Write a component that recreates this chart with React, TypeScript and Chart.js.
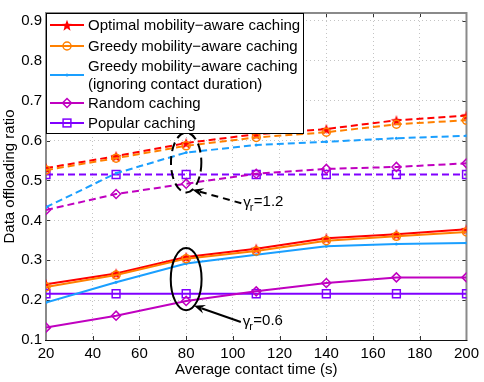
import React, { useEffect, useRef } from 'react';
import { Chart, registerables } from 'chart.js';

Chart.register(...registerables);

const FONT = '"Liberation Sans", Arial, Helvetica, sans-serif';
const FS = 15;

// ---- data ----
const contactTimes = [20, 50, 80, 110, 140, 170, 200];
const xTicks = [20, 40, 60, 80, 100, 120, 140, 160, 180, 200];
const yTicks = [0.1, 0.2, 0.3, 0.4, 0.5, 0.6, 0.7, 0.8, 0.9];

// gamma_r = 0.6 (solid)
const optimalLow = [0.24, 0.267, 0.308, 0.329, 0.355, 0.365, 0.378];
const greedyLow = [0.233, 0.263, 0.304, 0.323, 0.349, 0.36, 0.371];
const greedyNoDurLow = [0.194, 0.245, 0.292, 0.314, 0.335, 0.341, 0.343];
const randomLow = [0.131, 0.161, 0.198, 0.222, 0.243, 0.257, 0.257];
const popularLow = [0.216, 0.216, 0.216, 0.216, 0.216, 0.216, 0.216];

// gamma_r = 1.2 (dashed)
const optimalHigh = [0.531, 0.561, 0.594, 0.616, 0.629, 0.651, 0.663];
const greedyHigh = [0.526, 0.556, 0.587, 0.608, 0.621, 0.641, 0.651];
const greedyNoDurHigh = [0.433, 0.518, 0.57, 0.589, 0.597, 0.606, 0.612];
const randomHigh = [0.426, 0.466, 0.492, 0.517, 0.529, 0.534, 0.543];
const popularHigh = [0.515, 0.515, 0.515, 0.515, 0.515, 0.515, 0.515];

const seriesLabels = [
  ['Optimal mobility\u2212aware caching'],
  ['Greedy mobility\u2212aware caching'],
  ['Greedy mobility\u2212aware caching', '(ignoring contact duration)'],
  ['Random caching'],
  ['Popular caching'],
];
const seriesColors = ['#ff0000', '#ff8000', '#1a9fff', '#c000c0', '#8000ff'];
const seriesMarkers = ['star', 'circle', 'dot', 'diamond', 'square'];
const lowValues = [optimalLow, greedyLow, greedyNoDurLow, randomLow, popularLow];
const highValues = [optimalHigh, greedyHigh, greedyNoDurHigh, randomHigh, popularHigh];

// annotations (data coordinates)
const annHigh = { cx: 80, cy: 0.545, rx: 6.5, ry: 0.075, tipX: 82.7, tipY: 0.477, tailX: 103.6, tailY: 0.443, label: '=1.2' };
const annLow = { cx: 80, cy: 0.2525, rx: 6.6, ry: 0.078, tipX: 83.4, tipY: 0.186, tailX: 103.4, tailY: 0.145, label: '=0.6' };

function starPath(ctx: CanvasRenderingContext2D, cx: number, cy: number, R: number, r: number) {
  ctx.beginPath();
  for (let i = 0; i < 10; i++) {
    const ang = -Math.PI / 2 + (i * Math.PI) / 5;
    const rad = i % 2 === 0 ? R : r;
    const px = cx + rad * Math.cos(ang);
    const py = cy + rad * Math.sin(ang);
    if (i === 0) ctx.moveTo(px, py);
    else ctx.lineTo(px, py);
  }
  ctx.closePath();
}

function makeStar(color: string, R: number): HTMLCanvasElement {
  const size = Math.ceil(R * 2 + 2);
  const c = document.createElement('canvas');
  c.width = size;
  c.height = size;
  const ctx = c.getContext('2d')!;
  starPath(ctx, size / 2, size / 2 + 0.8, R, R * 0.42);
  ctx.fillStyle = color;
  ctx.fill();
  return c;
}

function drawMarker(ctx: CanvasRenderingContext2D, kind: string, color: string, x: number, y: number, star: HTMLCanvasElement) {
  ctx.save();
  ctx.setLineDash([]);
  ctx.strokeStyle = color;
  ctx.fillStyle = color;
  ctx.lineWidth = 1.5;
  if (kind === 'star') {
    ctx.drawImage(star, x - star.width / 2, y - star.height / 2);
  } else if (kind === 'circle') {
    ctx.beginPath();
    ctx.arc(x, y, 4, 0, Math.PI * 2);
    ctx.stroke();
  } else if (kind === 'dot') {
    ctx.beginPath();
    ctx.arc(x, y, 1.5, 0, Math.PI * 2);
    ctx.fill();
  } else if (kind === 'diamond') {
    ctx.beginPath();
    ctx.moveTo(x, y - 4.5);
    ctx.lineTo(x + 4.5, y);
    ctx.lineTo(x, y + 4.5);
    ctx.lineTo(x - 4.5, y);
    ctx.closePath();
    ctx.stroke();
  } else if (kind === 'square') {
    ctx.strokeRect(x - 3.9, y - 3.9, 7.8, 7.8);
  }
  ctx.restore();
}

function pointOpts(kind: string, color: string, star: HTMLCanvasElement) {
  switch (kind) {
    case 'star':
      return { pointStyle: star, pointRadius: 6, pointBorderWidth: 0, pointBackgroundColor: color, pointBorderColor: color };
    case 'circle':
      return { pointStyle: 'circle', pointRadius: 4, pointBorderWidth: 1.5, pointBackgroundColor: 'rgba(0,0,0,0)', pointBorderColor: color };
    case 'dot':
      return { pointStyle: 'circle', pointRadius: 1.5, pointBorderWidth: 0, pointBackgroundColor: color, pointBorderColor: color };
    case 'diamond':
      return { pointStyle: 'rectRot', pointRadius: 4.5, pointBorderWidth: 1.5, pointBackgroundColor: 'rgba(0,0,0,0)', pointBorderColor: color };
    default:
      return { pointStyle: 'rect', pointRadius: 5.5, pointBorderWidth: 1.5, pointBackgroundColor: 'rgba(0,0,0,0)', pointBorderColor: color };
  }
}

export default function App() {
  const ref = useRef<HTMLCanvasElement | null>(null);

  useEffect(() => {
    if (!ref.current) return;
    const star = makeStar('#ff0000', 6);

    // draw order: dataset 0 is on top
    const drawOrder = [1, 0, 2, 3, 4];
    const datasets: any[] = [];
    drawOrder.forEach((i) => {
      [lowValues[i], highValues[i]].forEach((vals, k) => {
        datasets.push({
          label: seriesLabels[i].join(' ') + (k === 0 ? ' (0.6)' : ' (1.2)'),
          data: contactTimes.map((t, j) => ({ x: t, y: vals[j] })),
          borderColor: seriesColors[i],
          backgroundColor: seriesColors[i],
          borderWidth: 2,
          borderDash: k === 1 ? [7, 4] : [],
          tension: 0,
          fill: false,
          ...pointOpts(seriesMarkers[i], seriesColors[i], star),
        });
      });
    });

    const framePlugin = {
      id: 'frame',
      beforeDatasetsDraw(chart: any) {
        const { ctx, chartArea: a, scales } = chart;
        ctx.save();
        ctx.setLineDash([]);
        ctx.strokeStyle = '#333';
        ctx.lineWidth = 1;
        const tl = 4;
        xTicks.forEach((t) => {
          const px = Math.round(scales.x.getPixelForValue(t)) + 0.5;
          ctx.beginPath();
          ctx.moveTo(px, a.bottom);
          ctx.lineTo(px, a.bottom - tl);
          ctx.moveTo(px, a.top);
          ctx.lineTo(px, a.top + tl);
          ctx.stroke();
        });
        yTicks.forEach((t) => {
          const py = Math.round(scales.y.getPixelForValue(t)) + 0.5;
          ctx.beginPath();
          ctx.moveTo(a.left, py);
          ctx.lineTo(a.left + tl, py);
          ctx.moveTo(a.right, py);
          ctx.lineTo(a.right - tl, py);
          ctx.stroke();
        });
        ctx.strokeStyle = '#8a8a8a';
        ctx.lineWidth = 2;
        ctx.beginPath();
        ctx.moveTo(a.left, a.bottom);
        ctx.lineTo(a.left, a.top);
        ctx.lineTo(a.right, a.top);
        ctx.lineTo(a.right, a.bottom);
        ctx.stroke();
        ctx.strokeStyle = '#111';
        ctx.lineWidth = 1.2;
        ctx.beginPath();
        ctx.moveTo(a.left - 1, a.bottom + 0.5);
        ctx.lineTo(a.right + 1, a.bottom + 0.5);
        ctx.stroke();
        ctx.restore();
      },
    };

    const arrow = (ctx: CanvasRenderingContext2D, x1: number, y1: number, x2: number, y2: number, dashed: boolean) => {
      const ang = Math.atan2(y2 - y1, x2 - x1);
      const hl = 11;
      const hw = 4.5;
      ctx.save();
      ctx.strokeStyle = '#000';
      ctx.fillStyle = '#000';
      ctx.lineWidth = 2;
      ctx.setLineDash(dashed ? [7, 5] : []);
      ctx.beginPath();
      ctx.moveTo(x1, y1);
      ctx.lineTo(x2 - Math.cos(ang) * hl * 0.7, y2 - Math.sin(ang) * hl * 0.7);
      ctx.stroke();
      ctx.setLineDash([]);
      ctx.beginPath();
      ctx.moveTo(x2, y2);
      ctx.lineTo(x2 - Math.cos(ang) * hl - Math.sin(ang) * hw, y2 - Math.sin(ang) * hl + Math.cos(ang) * hw);
      ctx.lineTo(x2 - Math.cos(ang) * hl * 0.65, y2 - Math.sin(ang) * hl * 0.65);
      ctx.lineTo(x2 - Math.cos(ang) * hl + Math.sin(ang) * hw, y2 - Math.sin(ang) * hl - Math.cos(ang) * hw);
      ctx.closePath();
      ctx.fill();
      ctx.restore();
    };

    const overlayPlugin = {
      id: 'overlay',
      afterDatasetsDraw(chart: any) {
        const { ctx, chartArea: a, scales } = chart;
        const xs = scales.x;
        const ys = scales.y;

        // annotations
        [annHigh, annLow].forEach((an, idx) => {
          const dashed = idx === 0;
          const cx = xs.getPixelForValue(an.cx);
          const cy = ys.getPixelForValue(an.cy);
          const rx = xs.getPixelForValue(an.cx + an.rx) - cx;
          const ry = cy - ys.getPixelForValue(an.cy + an.ry);
          ctx.save();
          ctx.strokeStyle = '#000';
          ctx.lineWidth = 2;
          ctx.setLineDash(dashed ? [9, 5] : []);
          ctx.beginPath();
          ctx.ellipse(cx, cy, rx, ry, 0, 0, Math.PI * 2);
          ctx.stroke();
          ctx.restore();
          const tx = xs.getPixelForValue(an.tailX);
          const ty = ys.getPixelForValue(an.tailY);
          arrow(ctx, tx, ty, xs.getPixelForValue(an.tipX), ys.getPixelForValue(an.tipY), dashed);
          ctx.save();
          ctx.fillStyle = '#000';
          ctx.textBaseline = 'middle';
          ctx.textAlign = 'left';
          ctx.font = `${FS}px ${FONT}`;
          const lx = tx + 2;
          ctx.fillText('\u03b3', lx, ty);
          const gw = ctx.measureText('\u03b3').width;
          ctx.font = `11px ${FONT}`;
          ctx.fillText('r', lx + gw - 1, ty + 5);
          ctx.font = `${FS}px ${FONT}`;
          ctx.fillText(an.label, lx + gw + 3, ty - 1);
          ctx.restore();
        });

        // legend
        const lx = a.left;
        const ly = a.top;
        const lw = 257;
        const lh = 120;
        ctx.save();
        ctx.setLineDash([]);
        ctx.fillStyle = '#fff';
        ctx.fillRect(lx, ly, lw, lh);
        ctx.strokeStyle = '#000';
        ctx.lineWidth = 1;
        ctx.strokeRect(lx + 0.5, ly + 0.5, lw, lh);
        const rowY = [12, 33, 62, 90, 110];
        ctx.font = `${FS}px ${FONT}`;
        ctx.textBaseline = 'middle';
        ctx.textAlign = 'left';
        seriesLabels.forEach((lines, i) => {
          const y = ly + rowY[i];
          ctx.strokeStyle = seriesColors[i];
          ctx.lineWidth = 2;
          ctx.beginPath();
          ctx.moveTo(lx + 4, y);
          ctx.lineTo(lx + 38, y);
          ctx.stroke();
          drawMarker(ctx, seriesMarkers[i], seriesColors[i], lx + 21, y, star);
          ctx.fillStyle = '#000';
          if (lines.length === 1) {
            ctx.fillText(lines[0], lx + 42, y + 0.5);
          } else {
            ctx.fillText(lines[0], lx + 42, y - 8.5);
            ctx.fillText(lines[1], lx + 42, y + 9.5);
          }
        });
        ctx.restore();
      },
    };

    const chart = new Chart(ref.current, {
      type: 'line',
      data: { datasets },
      options: {
        animation: false,
        responsive: false,
        maintainAspectRatio: false,
        layout: { padding: { top: 5, right: 15, left: 0, bottom: 0 } },
        plugins: { legend: { display: false }, tooltip: { enabled: false } },
        scales: {
          x: {
            type: 'linear',
            min: 20,
            max: 200,
            afterBuildTicks: (s: any) => {
              s.ticks = xTicks.map((v) => ({ value: v }));
            },
            afterFit: (s: any) => {
              s.height = 42;
            },
            ticks: { color: '#000', font: { size: FS, family: FONT }, padding: 5, maxRotation: 0 },
            grid: { color: '#c4c4c4', lineWidth: 1, drawTicks: false },
            border: { display: false, dash: [1, 3] },
            title: { display: true, text: 'Average contact time (s)', color: '#000', font: { size: FS, family: FONT }, padding: { top: 0, bottom: 3 } },
          },
          y: {
            type: 'linear',
            min: 0.1,
            max: 0.92,
            afterBuildTicks: (s: any) => {
              s.ticks = yTicks.map((v) => ({ value: v }));
            },
            afterFit: (s: any) => {
              s.width = 46;
            },
            ticks: { color: '#000', font: { size: FS, family: FONT }, padding: 4, callback: (v: any) => Number(v).toFixed(1) },
            grid: { color: '#c4c4c4', lineWidth: 1, drawTicks: false },
            border: { display: false, dash: [1, 3] },
            title: { display: true, text: 'Data offloading ratio', color: '#000', font: { size: FS, family: FONT }, padding: { top: 1, bottom: 0 } },
          },
        },
      },
      plugins: [framePlugin, overlayPlugin],
    } as any);

    return () => chart.destroy();
  }, []);

  return (
    <div style={{ position: 'fixed', left: 0, top: 0, width: 484, height: 382, background: '#fff' }}>
      <canvas ref={ref} width={484} height={382} style={{ display: 'block', width: 484, height: 382 }} />
    </div>
  );
}
